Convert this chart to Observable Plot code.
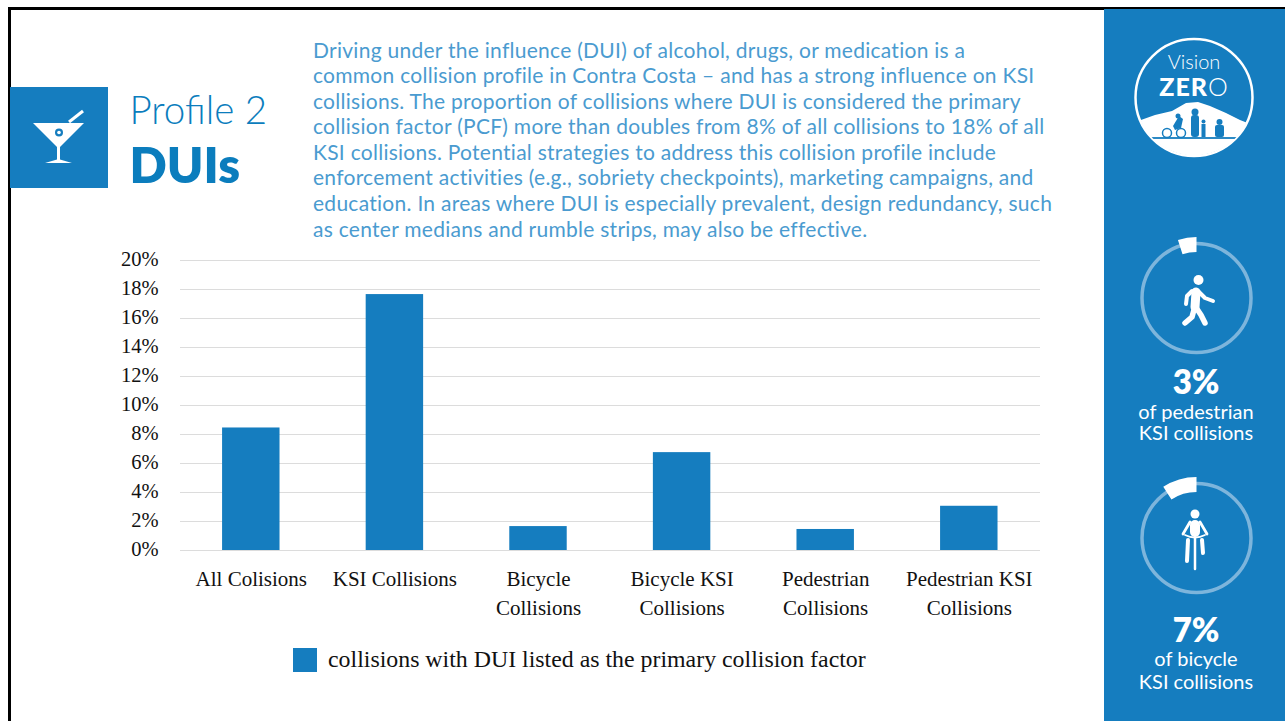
<!DOCTYPE html>
<html><head><meta charset="utf-8">
<script src="https://cdn.jsdelivr.net/npm/d3@7"></script>
<script src="https://cdn.jsdelivr.net/npm/@observablehq/plot@0.6"></script>
<style>
html,body{margin:0;padding:0;background:#fff;width:1285px;height:721px;overflow:hidden;position:relative}
.t{position:absolute;white-space:nowrap;line-height:1}
#frameT{position:absolute;left:8px;top:7px;width:1277px;height:2.5px;background:#000}
#frameL{position:absolute;left:8px;top:7px;width:2.5px;height:714px;background:#000}
#side{position:absolute;left:1104px;top:9px;width:181px;height:712px;background:#157dbf}
#iconbox{position:absolute;left:10px;top:87px;width:98px;height:101px;background:#157dbf}
#body{position:absolute;left:313px;top:36.5px;font:21px/25.6px Lato,sans-serif;letter-spacing:.27px;color:#4a9bd0;white-space:nowrap}
#chart{position:absolute;left:100px;top:240px}
#deco{position:absolute;left:0;top:0}
.c{transform:translateX(-50%);color:#fff;font-family:Lato,sans-serif}
.lg{position:absolute;left:293px;top:648px;width:24px;height:24px;background:#157dbf}
</style></head><body>
<div id="frameT"></div><div id="frameL"></div><div id="side"></div><div id="iconbox"></div>
<div class="t" style="left:129.5px;top:90px;font:300 38.5px/1 Lato,sans-serif;color:#0b7dbd">Profile 2</div>
<div class="t" style="left:129.5px;top:140px;font:800 49px/1 Lato,sans-serif;color:#0b7dbd">DUIs</div>
<div id="body"></div>
<div id="chart"></div>
<div class="lg"></div>
<div class="t" style="left:328px;top:647px;font:23.85px/24px 'Liberation Serif',serif;color:#111">collisions with DUI listed as the primary collision factor</div>
<svg id="deco" width="1285" height="721"></svg>
<div class="t c" style="left:1194px;top:51px;font-size:20px;font-weight:300">Vision</div>
<div class="t c" style="left:1194px;top:74px;font-size:25px;font-weight:900;letter-spacing:1px">ZER<span style="font-weight:300">O</span></div>
<div class="t c" style="left:1196px;top:365px;font-size:33px;font-weight:800">3%</div>
<div class="t c" style="left:1196px;top:400.5px;font-size:20px">of pedestrian</div>
<div class="t c" style="left:1196px;top:422px;font-size:20px">KSI collisions</div>
<div class="t c" style="left:1196px;top:613px;font-size:33px;font-weight:800">7%</div>
<div class="t c" style="left:1196px;top:648px;font-size:20px">of bicycle</div>
<div class="t c" style="left:1196px;top:670.5px;font-size:20px">KSI collisions</div>
<script>
const categories = ["All Colisions","KSI Collisions","Bicycle\nCollisions","Bicycle KSI\nCollisions","Pedestrian\nCollisions","Pedestrian KSI\nCollisions"];
const shares = [8.45,17.65,1.65,6.75,1.45,3.05];
const yTicks = [0,2,4,6,8,10,12,14,16,18,20];
const bodyLines = [
"Driving under the influence (DUI) of alcohol, drugs, or medication is a",
"common collision profile in Contra Costa – and has a strong influence on KSI",
"collisions. The proportion of collisions where DUI is considered the primary",
"collision factor (PCF) more than doubles from 8% of all collisions to 18% of all",
"KSI collisions. Potential strategies to address this collision profile include",
"enforcement activities (e.g., sobriety checkpoints), marketing campaigns, and",
"education. In areas where DUI is especially prevalent, design redundancy, such",
"as center medians and rumble strips, may also be effective."];
document.getElementById("body").innerHTML = bodyLines.join("<br>");

const rows = categories.map((c,i)=>({c,v:shares[i]}));
const plot = Plot.plot({
  width:960,height:400,marginLeft:80,marginRight:20,marginTop:20,marginBottom:90,
  style:{fontFamily:"'Liberation Serif',serif",fontSize:"20.5px",color:"#111",background:"transparent"},
  x:{domain:categories,range:[79,940.6],round:false,paddingInner:0.6,paddingOuter:0.3,align:0.5,label:null},
  y:{domain:[0,20],label:null},
  marks:[
    Plot.ruleY(yTicks,{stroke:"#dcdcdc",strokeWidth:1.2}),
    Plot.barY(rows,{x:"c",y:"v",fill:"#157dbf"}),
    Plot.axisY({ticks:yTicks,tickSize:0,tickPadding:22,dy:-1.5,tickFormat:d=>d+"%",label:null,fontSize:20.5,color:"#111"}),
    Plot.axisX({tickSize:0,tickPadding:15,label:null,lineHeight:1.38,fontSize:21,lineWidth:100})
  ]
});
document.getElementById("chart").append(plot);

// side-panel decoration
const svg = d3.select("#deco");
const arc = d3.arc();
const rings = [{cy:298,start:-17.7},{cy:538,start:-33}];
const rad = d=>d*Math.PI/180;
rings.forEach(r=>{
  const g = svg.append("g").attr("transform",`translate(1196.5,${r.cy})`);
  g.append("circle").attr("r",54.5).attr("fill","none").attr("stroke","#7db5dc").attr("stroke-width",3.5);
  g.append("path").attr("fill","#fff").attr("d",arc({innerRadius:46,outerRadius:61,startAngle:rad(r.start),endAngle:0}));
});
// martini
const m = svg.append("g").attr("fill","#fff");
m.append("path").attr("d","M33 123H84L60 147V159.5L72 163H45L57 159.5V147Z");
m.append("circle").attr("cx",59).attr("cy",132.5).attr("r",4).attr("fill","#157dbf");
m.append("circle").attr("cx",59).attr("cy",132.5).attr("r",1.8);
m.append("path").attr("d","M69 122L83 111").attr("stroke","#fff").attr("stroke-width",3);
// walker
const w = svg.append("g").attr("fill","none").attr("stroke","#fff").attr("stroke-linecap","round").attr("stroke-linejoin","round");
svg.append("circle").attr("cx",1198.5).attr("cy",280).attr("r",5).attr("fill","#fff");
w.append("path").attr("stroke-width",9).attr("d","M1196 292L1195 307");
w.append("path").attr("stroke-width",4).attr("d","M1192 291L1187 296L1186 304M1199 292L1205 298L1213 301");
w.append("path").attr("stroke-width",5.5).attr("d","M1195 306L1192 317L1185 323M1195 306L1201 315L1205 323");
// cyclist
svg.append("circle").attr("cx",1195).attr("cy",514).attr("r",4.5).attr("fill","#fff");
const b = svg.append("g").attr("fill","none").attr("stroke","#fff").attr("stroke-linecap","round");
b.append("path").attr("stroke-width",10).attr("d","M1195 525V532");
b.append("path").attr("stroke-width",2.8).attr("d","M1190 522L1183 534M1200 522L1207 534");
b.append("path").attr("stroke-width",4).attr("d","M1188 540L1187 561M1202 540L1203 553");
b.append("path").attr("stroke-width",2.5).attr("d","M1195 537V569");
b.append("path").attr("stroke-width",1.8).attr("d","M1185 535Q1195 540 1205 535");
// logo
svg.append("clipPath").attr("id","lc").append("circle").attr("cx",1194).attr("cy",97.5).attr("r",58);
svg.append("circle").attr("cx",1194).attr("cy",97.5).attr("r",58.5).attr("fill","none").attr("stroke","#fff").attr("stroke-width",2.5);
const lg = svg.append("g").attr("clip-path","url(#lc)");
lg.append("path").attr("fill","#fff").attr("d","M1135 122L1155 115L1172 111L1186 103L1198 102L1210 106L1226 113L1240 120L1255 126V160H1135Z");
const ppl = lg.append("g").attr("fill","#157dbf");
ppl.append("rect").attr("x",1191).attr("y",115).attr("width",8).attr("height",22).attr("rx",3);
ppl.append("circle").attr("cx",1195).attr("cy",112).attr("r",3.5);
ppl.append("rect").attr("x",1201.5).attr("y",124).attr("width",4).attr("height",13);
ppl.append("circle").attr("cx",1203.5).attr("cy",121.5).attr("r",2);
ppl.append("rect").attr("x",1215).attr("y",125).attr("width",9).attr("height",12).attr("rx",2);
ppl.append("circle").attr("cx",1219.5).attr("cy",122).attr("r",3);
ppl.append("path").attr("d","M1173 126L1179 116L1183 119L1181 128L1175 130Z");
ppl.append("circle").attr("cx",1178).attr("cy",116).attr("r",2.5);
lg.append("g").attr("fill","none").attr("stroke","#157dbf").attr("stroke-width",1.5)
  .selectAll("circle").data([1167,1181]).join("circle").attr("cx",d=>d).attr("cy",133).attr("r",4.5);
lg.append("rect").attr("x",1140).attr("y",137).attr("width",110).attr("height",2).attr("fill","#157dbf").attr("opacity",0.9);
</script>
</body></html>
